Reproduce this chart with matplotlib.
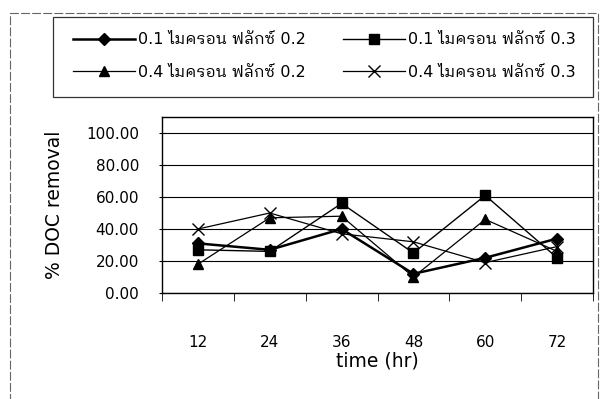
import matplotlib
matplotlib.use("Agg")
import matplotlib.pyplot as plt
from matplotlib.patches import Rectangle
import numpy as np

plt.rcParams['font.family'] = ['DejaVu Sans', 'IBM Plex Sans Thai Looped']

# เวลา (ชั่วโมง) และ % DOC removal ของแต่ละชุดการทดลอง
time_hr = ["12", "24", "36", "48", "60", "72"]
s_01_02 = [31, 27, 40, 12, 22, 34]   # 0.1 ไมครอน ฟลักซ์ 0.2
s_01_03 = [27, 26, 56, 25, 61, 22]   # 0.1 ไมครอน ฟลักซ์ 0.3
s_04_02 = [18, 47, 48, 10, 46, 26]   # 0.4 ไมครอน ฟลักซ์ 0.2
s_04_03 = [40, 50, 37, 32, 19, 29]   # 0.4 ไมครอน ฟลักซ์ 0.3

labels = ["0.1 ไมครอน ฟลักซ์ 0.2", "0.1 ไมครอน ฟลักซ์ 0.3",
          "0.4 ไมครอน ฟลักซ์ 0.2", "0.4 ไมครอน ฟลักซ์ 0.3"]

W, H = 603, 399
fig = plt.figure(figsize=(W / 100, H / 100), dpi=100)
ax = fig.add_axes([162/W, 1-293/H, 431/W, 176/H])

x = np.arange(len(time_hr))
l1, = ax.plot(x, s_01_02, '-', color='black', lw=1.8, marker='D', ms=6, zorder=5)
l2, = ax.plot(x, s_01_03, '-', color='black', lw=1.0, marker='s', ms=7, zorder=4)
l3, = ax.plot(x, s_04_02, '-', color='black', lw=0.9, marker='^', ms=6.5, zorder=4)
l4, = ax.plot(x, s_04_03, '-', color='black', lw=0.9, marker='x', ms=8, mew=1.0, zorder=3)

ax.set_xlim(-0.5, len(time_hr) - 0.5)
ax.set_ylim(0, 110)
yt = np.arange(0, 101, 20)
ax.set_yticks(yt)
ax.set_yticklabels([f"{v:.2f}" for v in yt], fontsize=11)
ax.yaxis.grid(True, color='black', lw=0.8)
ax.set_axisbelow(True)

ax.set_xticks(x)
ax.set_xticklabels(time_hr, fontsize=11)
ax.set_xticks(np.arange(-0.5, len(time_hr)), minor=True)
ax.tick_params(axis='x', which='major', length=0, pad=30)
ax.tick_params(axis='x', which='minor', length=6, direction='out')
ax.tick_params(axis='y', length=5, direction='inout', pad=14)

for sp in ax.spines.values():
    sp.set_linewidth(1.0)
    sp.set_color('black')

ax.set_xlabel("time (hr)", fontsize=13.5)
ax.xaxis.set_label_coords(0.5, -0.33)
ax.set_ylabel("% DOC removal", fontsize=13.5)
ax.yaxis.set_label_coords(-0.228, 0.5)

# คำอธิบายสัญลักษณ์ 2 คอลัมน์ ในกรอบเดียวกัน
leg_kw = dict(loc='center left', fontsize=11.5, handlelength=3.9,
              handletextpad=0.15, frameon=False, borderpad=0,
              borderaxespad=0, labelspacing=1.1)
leg1 = fig.legend([l1, l3], [labels[0], labels[2]],
                  bbox_to_anchor=(73/W, 1-56/H), **leg_kw)
leg2 = fig.legend([l2, l4], [labels[1], labels[3]],
                  bbox_to_anchor=(343/W, 1-56/H), **leg_kw)
fig.patches.append(Rectangle((53/W, 1-97/H), 540/W, 80/H,
                             transform=fig.transFigure, fill=False,
                             edgecolor='#333333', lw=0.9))

# กรอบของพื้นที่แผนภูมิ
fig.patches.append(Rectangle((10/W, -0.02), 588/W, 1-13/H + 0.02,
                             transform=fig.transFigure, fill=False,
                             edgecolor='#666666', lw=0.8, ls=(0, (8, 2))))

fig.savefig("out.png", dpi=100)
